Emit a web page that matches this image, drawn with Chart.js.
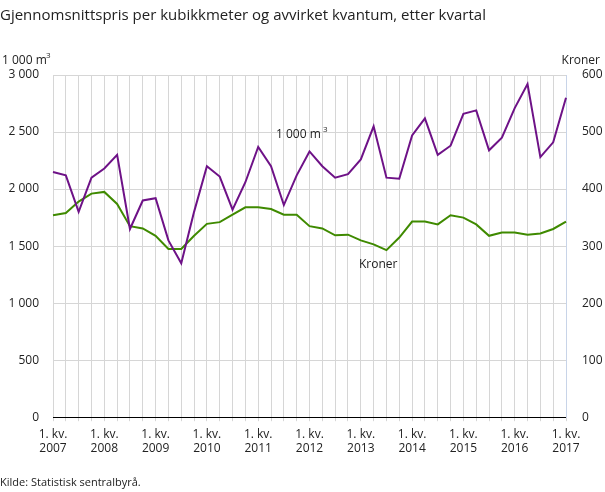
<!DOCTYPE html><html><head><meta charset="utf-8">
<script src="https://cdn.jsdelivr.net/npm/chart.js@4"></script>
<style>body{margin:0;background:#fff}#w{width:605px;height:492px}</style></head><body><div id="w"><canvas id="c"></canvas></div>
<script>
const years=['2007','2008','2009','2010','2011','2012','2013','2014','2015','2016','2017'];
const volume=[2150,2120,1800,2100,2180,2300,1650,1900,1920,1550,1350,1800,2200,2110,1820,2060,2370,2200,1860,2120,2330,2200,2100,2130,2260,2550,2100,2090,2470,2620,2300,2380,2660,2690,2340,2450,2710,2920,2280,2410,2800];
const price=[354,358,378,392,395,374,335,331,318,295,295,318,339,342,355,368,368,365,355,355,335,331,319,320,310,303,293,315,343,343,338,354,350,338,318,324,324,320,322,330,343];
const labels=volume.map((v,i)=>i%4===0?['1. kv.',years[i/4]]:['','']);
const F='"Open Sans", sans-serif';
const fmt=v=>String(v).replace(/\B(?=(\d{3})+(?!\d))/g,' ');
const txt={id:'txt',afterDraw(c){const x=c.ctx;x.save();x.fillStyle='#222';
x.font='15px '+F;x.textBaseline='alphabetic';x.fillText('Gjennomsnittspris per kubikkmeter og avvirket kvantum, etter kvartal',0,20);
x.font='12px '+F;x.fillText('1 000 m',2,64);x.font='8px '+F;x.fillText('3',46,58);
x.font='12px '+F;x.textAlign='right';x.fillText('Kroner',600,64);
x.textAlign='left';x.font='11px '+F;x.fillText('Kilde: Statistisk sentralbyrå.',0,486);
x.font='12px '+F;x.fillText('1 000 m',276,138);x.font='8px '+F;x.fillText('3',323,132);
x.font='12px '+F;x.fillText('Kroner',359,268);
x.restore();}};
new Chart(document.getElementById('c'),{type:'line',data:{labels,datasets:[
{data:volume,borderColor:'#6e1287',borderWidth:2,pointRadius:0,yAxisID:'y',tension:0},
{data:price,borderColor:'#3f8a00',borderWidth:2,pointRadius:0,yAxisID:'y1',tension:0}]},
options:{animation:false,responsive:true,maintainAspectRatio:false,devicePixelRatio:1,
layout:{padding:{top:75,bottom:30,left:0,right:0}},
plugins:{legend:{display:false},tooltip:{enabled:false}},
scales:{
x:{grid:{color:'#d6d6d6',drawTicks:true,tickLength:4},border:{color:'#000'},ticks:{autoSkip:false,maxRotation:0,color:'#222',font:{family:F,size:12},padding:6}},
y:{position:'left',min:0,max:3000,afterFit(a){a.width=53},grid:{color:'#d6d6d6',drawTicks:false},border:{display:false},ticks:{stepSize:500,callback:fmt,color:'#222',font:{family:F,size:12},padding:14}},
y1:{position:'right',min:0,max:600,afterFit(a){a.width=39},grid:{display:false},border:{color:'#c8d4e8'},ticks:{stepSize:100,color:'#222',font:{family:F,size:12},padding:8}}}}
,plugins:[txt]});
</script></body></html>
